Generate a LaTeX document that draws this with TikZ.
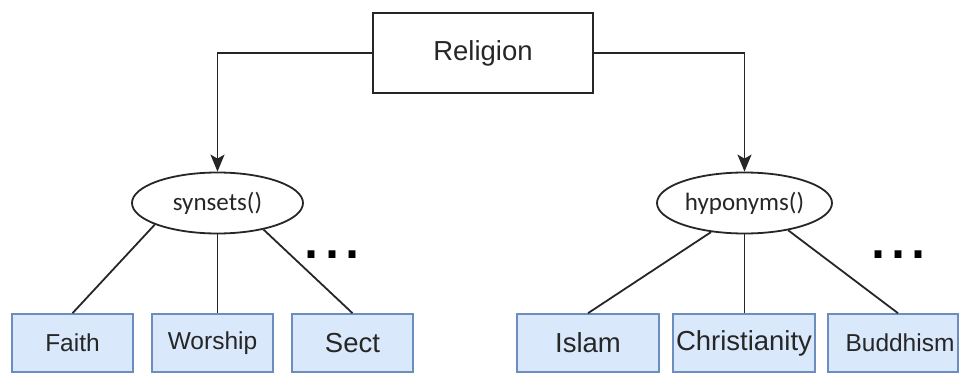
\documentclass[tikz,border=0pt]{standalone}
\usepackage{fontspec}
\setmainfont{Liberation Sans}
\newfontfamily\calib{Carlito}
\usetikzlibrary{shapes.geometric,arrows.meta,calc}
\definecolor{boxfill}{HTML}{DAE8FC}
\definecolor{boxline}{HTML}{6C8EBF}
\begin{document}
\begin{tikzpicture}[x=1pt,y=1pt,
  link/.style={line width=1.8pt,draw=black!85},
  arr/.style={link,-{Stealth[length=17pt,width=14pt,inset=4pt]}},
  topbox/.style={draw=black!85,line width=1.8pt,fill=white,rectangle,
    minimum width=220pt,minimum height=80pt,inner sep=0pt,text=black!85,
    font=\fontsize{27.5}{30}\selectfont},
  call/.style={draw=black!85,line width=1.8pt,fill=white,ellipse,
    minimum height=61pt,inner sep=0pt,text=black!85,
    font=\calib\fontsize{25}{28}\selectfont},
  leaf/.style={draw=boxline,line width=1.6pt,fill=boxfill,rectangle,
    minimum height=58pt,inner sep=0pt,text=black!85},
  small/.style={font=\fontsize{24.5}{27}\selectfont},
  big/.style={font=\fontsize{27.5}{30}\selectfont},
  more/.style={inner sep=0pt,font=\fontsize{72}{78}\selectfont}]
\useasboundingbox (0,0) rectangle (961,373);
\clip (0,0) rectangle (961,373);

% root
\node[topbox] (rel) at (483,320) {Religion};

% method calls
\node[call,minimum width=171pt] (syn) at (217.5,170) {synsets()};
\node[call,minimum width=175pt] (hyp) at (744.5,170) {hyponyms()};

% results
\node[leaf,small,minimum width=121pt] (faith) at (72.5,30) {Faith};
\node[leaf,small,minimum width=121pt] (worship) at (212.5,30) {Worship};
\node[leaf,big,minimum width=121pt] (sect) at (352.5,30) {Sect};
\node[leaf,big,minimum width=142pt] (islam) at (588,30) {Islam};
\node[leaf,big,minimum width=142pt] (christ) at (744,30) {Christianity};
\node[leaf,small,minimum width=130pt] (budd) at (893,30) {\hspace*{14pt}Buddhism};

% ellipsis markers
\node[more] (moreL) at (332,118) {...};
\node[more] (moreR) at (898.5,118) {...};

% arrows from the root
\draw[arr] (rel.west) -| (syn.north);
\draw[arr] (rel.east) -| (hyp.north);

% branches
\draw[link] (syn.199) -- (faith.north);
\draw[link] (syn.south) -- (syn.south |- worship.north);
\draw[link] (syn.330) -- (sect.north);
\draw[link] (hyp.221) -- (islam.north);
\draw[link] (hyp.south) -- (hyp.south |- christ.north);
\draw[link] (hyp.328) -- ($(budd.north)+(5,0)$);
\end{tikzpicture}
\end{document}
